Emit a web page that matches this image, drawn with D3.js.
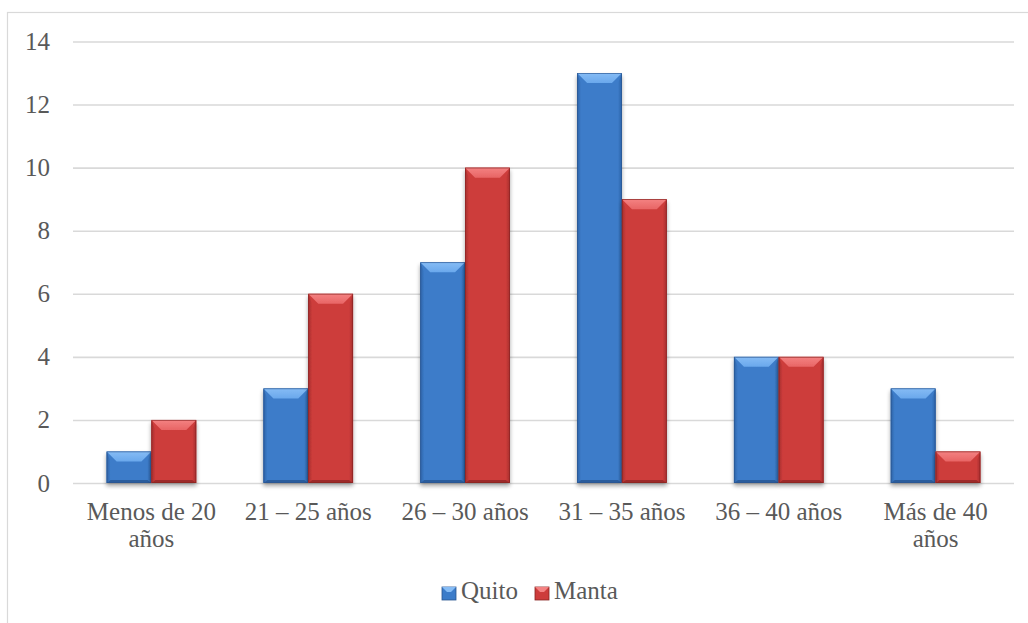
<!DOCTYPE html>
<html>
<head>
<meta charset="utf-8">
<script src="https://cdn.jsdelivr.net/npm/d3@7"></script>
<style>
  html, body { margin: 0; padding: 0; background: #ffffff; }
  svg { display: block; }
  text { font-family: "Liberation Serif", "DejaVu Serif", serif; fill: #595959; }
</style>
</head>
<body>
<svg id="chart" width="1028" height="623"></svg>
<script>
const categories = ["Menos de 20 años", "21 – 25 años", "26 – 30 años", "31 – 35 años", "36 – 40 años", "Más de 40 años"];
const seriesNames = ["Quito", "Manta"];
const quito = [1, 3, 7, 13, 4, 3];
const manta = [2, 6, 10, 9, 4, 1];
const yTicks = [0, 2, 4, 6, 8, 10, 12, 14];

const palettes = {
  Quito: { main: "#3c7cc9", light: "#6aa8ec", lightTop: "#86bcf5", side: "#2d62a6", bottom: "#2a5c9c", stroke: "#2a558f" },
  Manta: { main: "#cd3c3b", light: "#e86565", lightTop: "#f48282", side: "#a52f2e", bottom: "#9d2b2a", stroke: "#872322" }
};

const svg = d3.select("#chart");
const defs = svg.append("defs");
const f = defs.append("filter").attr("id", "shadow").attr("x", "-20%").attr("y", "-20%").attr("width", "140%").attr("height", "140%");
f.append("feGaussianBlur").attr("in", "SourceAlpha").attr("stdDeviation", 2.2);
f.append("feOffset").attr("dx", 0).attr("dy", 2.5).attr("result", "ob");
f.append("feComponentTransfer").append("feFuncA").attr("type", "linear").attr("slope", 0.35);
const fm = f.append("feMerge");
fm.append("feMergeNode");
fm.append("feMergeNode").attr("in", "SourceGraphic");

// gradients per series
seriesNames.forEach(name => {
  const p = palettes[name];
  const gT = defs.append("linearGradient").attr("id", "top-" + name).attr("x1", 0).attr("y1", 0).attr("x2", 0).attr("y2", 1);
  gT.append("stop").attr("offset", "0%").attr("stop-color", p.lightTop);
  gT.append("stop").attr("offset", "100%").attr("stop-color", p.light);
  const gL = defs.append("linearGradient").attr("id", "left-" + name).attr("x1", 0).attr("y1", 0).attr("x2", 1).attr("y2", 0);
  gL.append("stop").attr("offset", "0%").attr("stop-color", p.side);
  gL.append("stop").attr("offset", "100%").attr("stop-color", p.main);
  const gR = defs.append("linearGradient").attr("id", "right-" + name).attr("x1", 0).attr("y1", 0).attr("x2", 1).attr("y2", 0);
  gR.append("stop").attr("offset", "0%").attr("stop-color", p.main);
  gR.append("stop").attr("offset", "100%").attr("stop-color", p.side);
});

// chart border
svg.append("rect").attr("x", 7.5).attr("y", 12.5).attr("width", 1040).attr("height", 640)
  .attr("fill", "none").attr("stroke", "#d9d9d9").attr("stroke-width", 1.2);

const plot = { left: 73, right: 1014, top: 41.5, bottom: 483 };

const x = d3.scaleBand().domain(categories).range([plot.left, plot.right]).paddingInner(1.5 / 3.5).paddingOuter(0.75 / 3.5);
const xs = d3.scaleBand().domain(seriesNames).range([0, x.bandwidth()]);
const y = d3.scaleLinear().domain([0, 14]).range([plot.bottom, plot.top]);

// gridlines
const yAxis = d3.axisLeft(y).tickValues(yTicks).tickSize(-(plot.right - plot.left)).tickPadding(23).tickFormat(d3.format("d"));
const gy = svg.append("g").attr("transform", `translate(${plot.left},0)`).call(yAxis);
gy.select(".domain").remove();
gy.selectAll(".tick line").attr("stroke", "#d9d9d9").attr("stroke-width", 1.6);
gy.selectAll(".tick text").attr("font-size", 25).attr("fill", "#595959").attr("dy", "0.32em")
  .style("font-family", '"Liberation Serif", "DejaVu Serif", serif');

function bevelBar(g, bx, by, w, h, name) {
  const p = palettes[name];
  const t = Math.min(10, h / 2.5), s = 4, b = Math.min(3, h / 6);
  const grp = g.append("g").attr("filter", "url(#shadow)");
  grp.append("rect").attr("x", bx).attr("y", by).attr("width", w).attr("height", h).attr("fill", p.main);
  grp.append("polygon").attr("points", [[bx, by], [bx + s, by + t], [bx + s, by + h - b], [bx, by + h]].join(" ")).attr("fill", `url(#left-${name})`);
  grp.append("polygon").attr("points", [[bx + w, by], [bx + w - s, by + t], [bx + w - s, by + h - b], [bx + w, by + h]].join(" ")).attr("fill", `url(#right-${name})`);
  grp.append("polygon").attr("points", [[bx, by + h], [bx + w, by + h], [bx + w - s, by + h - b], [bx + s, by + h - b]].join(" ")).attr("fill", p.bottom);
  grp.append("polygon").attr("points", [[bx, by], [bx + w, by], [bx + w - t, by + t], [bx + t, by + t]].join(" ")).attr("fill", `url(#top-${name})`);
  grp.append("rect").attr("x", bx + 0.4).attr("y", by + 0.4).attr("width", w - 0.8).attr("height", h - 0.8)
    .attr("fill", "none").attr("stroke", p.stroke).attr("stroke-width", 0.8).attr("stroke-opacity", 0.8);
}

const series = { Quito: quito, Manta: manta };
const barsG = svg.append("g");
categories.forEach((c, i) => {
  seriesNames.forEach(name => {
    const v = series[name][i];
    const bx = x(c) + xs(name);
    const by = y(v);
    bevelBar(barsG, bx, by, xs.bandwidth(), y(0) - by, name);
  });
});

// x axis labels with wrapping
const xAxis = d3.axisBottom(x).tickSize(0).tickPadding(0);
const gx = svg.append("g").attr("transform", `translate(0,${plot.bottom})`).call(xAxis);
gx.select(".domain").remove();
gx.selectAll(".tick text").each(function(d) {
  const el = d3.select(this);
  el.text(null).attr("y", 0).attr("dy", null).attr("font-size", 25).attr("fill", "#595959")
    .style("font-family", '"Liberation Serif", "DejaVu Serif", serif');
  const words = d.split(" ");
  const maxW = x.step() - 6;
  let lines = [], cur = [];
  const probe = el.append("tspan");
  words.forEach(wd => {
    const test = cur.concat([wd]).join(" ");
    probe.text(test);
    if (probe.node().getComputedTextLength() > maxW && cur.length) {
      lines.push(cur.join(" "));
      cur = [wd];
    } else cur.push(wd);
  });
  lines.push(cur.join(" "));
  probe.remove();
  lines.forEach((ln, k) => {
    el.append("tspan").attr("x", 0).attr("y", 37 + k * 27).text(ln);
  });
});

// legend
const legend = svg.append("g");
const legendItems = [{ name: "Quito", x: 442 }, { name: "Manta", x: 535 }];
const legendScale = d3.scalePoint().domain(seriesNames).range([442, 535]);
seriesNames.forEach(name => {
  const lx = legendScale(name);
  const p = palettes[name];
  const lg = legend.append("g");
  lg.append("rect").attr("x", lx).attr("y", 587).attr("width", 14).attr("height", 13).attr("fill", p.main).attr("stroke", p.stroke).attr("stroke-width", 0.8);
  lg.append("polygon").attr("points", [[lx, 587], [lx + 14, 587], [lx + 9, 592], [lx + 5, 592]].join(" ")).attr("fill", p.lightTop);
  lg.append("text").attr("x", lx + 19).attr("y", 599).attr("font-size", 25).text(name);
});
</script>
</body>
</html>
